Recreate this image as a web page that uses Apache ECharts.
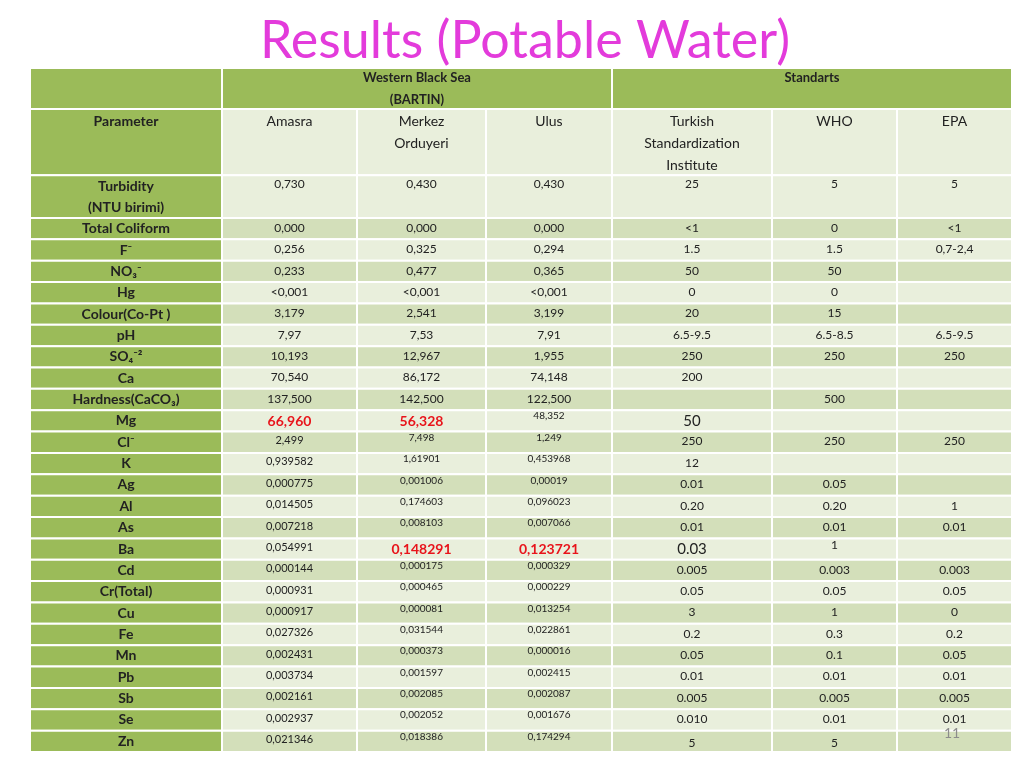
<!DOCTYPE html>
<html><head><meta charset="utf-8">
<script src="https://cdn.jsdelivr.net/npm/echarts@6/dist/echarts.min.js"></script>
<style>html,body{margin:0;padding:0;background:#fff}#c{width:1024px;height:768px}</style>
</head><body><div id="c"></div>
<script>
const headerGroups = ["Western Black Sea\n(BARTIN)", "Standarts"];
const columnHeaders = ["Parameter", "Amasra", "Merkez\nOrduyeri", "Ulus", "Turkish\nStandardization\nInstitute", "WHO", "EPA"];
const parameters = ["Turbidity\n(NTU birimi)","Total Coliform","F⁻","NO₃⁻","Hg","Colour(Co-Pt )","pH","SO₄⁻²","Ca","Hardness(CaCO₃)","Mg","Cl⁻","K","Ag","Al","As","Ba","Cd","Cr(Total)","Cu","Fe","Mn","Pb","Sb","Se","Zn"];
const amasra = ["0,730","0,000","0,256","0,233","<0,001","3,179","7,97","10,193","70,540","137,500","66,960","2,499","0,939582","0,000775","0,014505","0,007218","0,054991","0,000144","0,000931","0,000917","0,027326","0,002431","0,003734","0,002161","0,002937","0,021346"];
const merkez = ["0,430","0,000","0,325","0,477","<0,001","2,541","7,53","12,967","86,172","142,500","56,328","7,498","1,61901","0,001006","0,174603","0,008103","0,148291","0,000175","0,000465","0,000081","0,031544","0,000373","0,001597","0,002085","0,002052","0,018386"];
const ulus = ["0,430","0,000","0,294","0,365","<0,001","3,199","7,91","1,955","74,148","122,500","48,352","1,249","0,453968","0,00019","0,096023","0,007066","0,123721","0,000329","0,000229","0,013254","0,022861","0,000016","0,002415","0,002087","0,001676","0,174294"];
const tse = ["25","<1","1.5","50","0","20","6.5-9.5","250","200","","50","250","12","0.01","0.20","0.01","0.03","0.005","0.05","3","0.2","0.05","0.01","0.005","0.010","5"];
const who = ["5","0","1.5","50","0","15","6.5-8.5","250","","500","","250","","0.05","0.20","0.01","1","0.003","0.05","1","0.3","0.1","0.01","0.005","0.01","5"];
const epa = ["5","<1","0,7-2,4","","","","6.5-9.5","250","","","","250","","","1","0.01","","0.003","0.05","0","0.2","0.05","0.01","0.005","0.01",""];
const redCells = [[10,1],[10,2],[16,2],[16,3]];

const colW = [192,135,129,126,160,125,115];
const colX = [0]; colW.forEach(w=>colX.push(colX[colX.length-1]+w));
const rowH = [1.92,3.1,2.0]; for(let i=1;i<parameters.length;i++) rowH.push(1);
const rowY = [0]; rowH.forEach(h=>rowY.push(rowY[rowY.length-1]+h));
const GREEN='#9BBB59', LIGHT='#E9EFDC', DARK='#D3DFBA';

const cells=[];
function add(c0,c1,r0,r1,text,o){cells.push(Object.assign({value:[colX[c0],colX[c1],rowY[r0],rowY[r1]],text:text},o));}
add(0,1,0,1,'',{fill:GREEN});
add(1,4,0,1,headerGroups[0],{fill:GREEN,bold:true,size:13,off:10,lh:22});
add(4,7,0,1,headerGroups[1],{fill:GREEN,bold:true,size:13,off:10});
add(0,1,1,2,columnHeaders[0],{fill:GREEN,bold:true,size:14,off:12});
for(let c=1;c<7;c++) add(c,c+1,1,2,columnHeaders[c],{fill:LIGHT,size:14,off:12,lh:22});
const cols=[amasra,merkez,ulus,tse,who,epa];
parameters.forEach((p,i)=>{
  const r=i+2, fill=(i%2===0)?LIGHT:DARK;
  add(0,1,r,r+1,p,{fill:GREEN,bold:true,size:14,center:true,lh:21});
  cols.forEach((arr,k)=>{
    const c=k+1; let size=12, off=10, color='#222', bold=false;
    if(i>=11 && c===1){size=11;off=9;}
    if(i>=10 && (c===2||c===3)){size=10;off=6;}
    if(i===0) off=9;
    if(redCells.some(q=>q[0]===i&&q[1]===c)){size=14;off=11;color='#E8141B';bold=true;}
    if((i===10||i===16)&&c===4){size=15;off=11;}
    if(i===16&&c===5){off=7;}
    if(i===25&&(c===4||c===5)){off=12;}
    add(c,c+1,r,r+1,arr[i],{fill,size,off,color,bold});
  });
});

const chart=echarts.init(document.getElementById('c'),null,{renderer:'canvas'});
chart.setOption({
  animation:false,
  title:{text:'Results (Potable Water)',left:520,top:10,textAlign:'center',textStyle:{color:'#E33BDB',fontSize:52,fontWeight:'normal',fontFamily:'Lato'}},
  graphic:[{type:'text',z:100,left:944,top:726,style:{text:'11',fill:'#8C8C8C',font:'14px Lato'}}],
  grid:{left:30,right:12,top:68,bottom:16},
  xAxis:{type:'value',min:0,max:colX[colX.length-1],show:false},
  yAxis:{type:'value',min:0,max:rowY[rowY.length-1],inverse:true,show:false},
  series:[{type:'custom',data:cells,renderItem:function(params,api){
    const d=cells[params.dataIndex];
    const p0=api.coord([api.value(0),api.value(2)]), p1=api.coord([api.value(1),api.value(3)]);
    const lh=d.lh||Math.round((d.size||12)*1.4);
    const ty=d.center?(p0[1]+p1[1])/2:p0[1]+(d.off||10)-lh/2;
    return {type:'group',children:[
      {type:'rect',z2:0,shape:{x:p0[0],y:p0[1],width:p1[0]-p0[0],height:p1[1]-p0[1]},style:{fill:d.fill,stroke:'#fff',lineWidth:2}},
      {type:'text',z2:50,style:{text:d.text,x:(p0[0]+p1[0])/2,y:ty,align:'center',verticalAlign:d.center?'middle':'top',
        fill:d.color||'#222',font:(d.bold?'bold ':'')+(d.size||12)+'px Lato',lineHeight:lh}}
    ]};
  },encode:{x:[0,1],y:[2,3]}}]
});
</script></body></html>
